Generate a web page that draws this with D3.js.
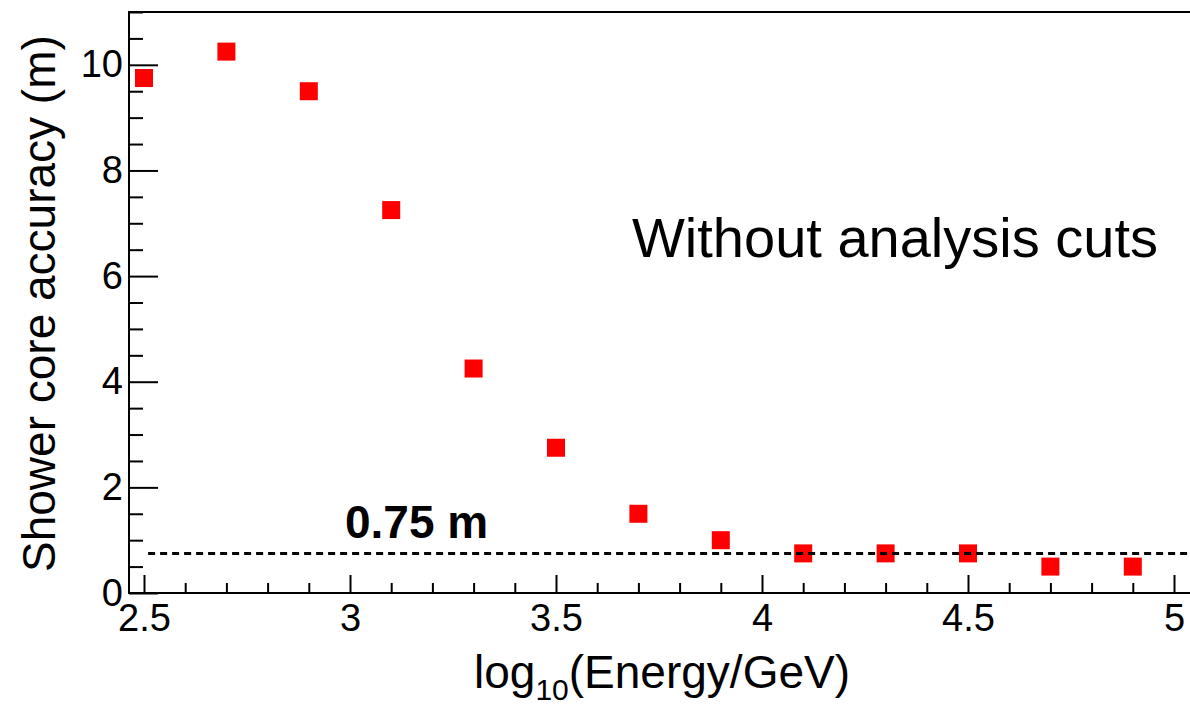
<!DOCTYPE html>
<html>
<head>
<meta charset="utf-8">
<script src="https://cdn.jsdelivr.net/npm/d3@7"></script>
<style>
  body { margin: 0; background: #fff; }
  svg { display: block; font-family: "Liberation Sans", Arial, Helvetica, sans-serif; }
</style>
</head>
<body>
<svg width="1190" height="707"></svg>
<script>
// Energy bins (log10 E/GeV) and core accuracy in metres
const energy = [2.5, 2.7, 2.9, 3.1, 3.3, 3.5, 3.7, 3.9, 4.1, 4.3, 4.5, 4.7, 4.9];
const accuracy = [9.75, 10.25, 9.5, 7.25, 4.25, 2.75, 1.5, 1.0, 0.75, 0.75, 0.75, 0.5, 0.5];

const xMajor = [2.5, 3, 3.5, 4, 4.5, 5];
const xTickLabels = ["2.5", "3", "3.5", "4", "4.5", "5"];
const yMajor = [0, 2, 4, 6, 8, 10];
const yTickLabels = ["0", "2", "4", "6", "8", "10"];

const refLevel = 0.75;
const refLabel = "0.75 m";

const svg = d3.select("svg");

// frame: left edge 129, bottom 593, top 12, right runs off the page
const frame = { left: 129, top: 12, right: 1200, bottom: 593 };

const x = d3.scaleLinear().domain([2.5, 5]).range([144, 1174]);
const y = d3.scaleLinear().domain([0, 11]).range([frame.bottom, frame.top]);

// minor ticks
const xMinor = d3.range(25, 51).map(d => d / 10).filter(d => !xMajor.includes(d));
const yMinor = d3.range(0, 23).map(d => d / 2).filter(d => !yMajor.includes(d));

// markers first, so the dashed line sits on top
svg.append("g")
  .selectAll("rect")
  .data(energy)
  .enter()
  .append("rect")
  .attr("x", d => x(d) - 9)
  .attr("y", (d, i) => y(accuracy[i]) - 9)
  .attr("width", 18)
  .attr("height", 18)
  .style("fill", "#ff0000");

svg.append("line")
  .attr("x1", x(2.51))
  .attr("x2", frame.right)
  .attr("y1", y(refLevel))
  .attr("y2", y(refLevel))
  .style("stroke", "#000")
  .style("stroke-width", 3)
  .style("stroke-dasharray", "7,5");

svg.append("text")
  .attr("x", 345)
  .attr("y", 538)
  .style("font-size", "46px")
  .style("font-weight", "bold")
  .text(refLabel);

// frame outline
svg.append("rect")
  .attr("x", frame.left)
  .attr("y", frame.top)
  .attr("width", frame.right - frame.left)
  .attr("height", frame.bottom - frame.top)
  .style("fill", "none")
  .style("stroke", "#000")
  .style("stroke-width", 2);

// x axis (major and minor in separate groups, otherwise the second call replaces the first)
svg.append("g")
  .attr("transform", `translate(0,${frame.bottom})`)
  .call(d3.axisBottom(x).tickValues(xMajor).tickSize(-18).tickPadding(11)
    .tickFormat((d, i) => xTickLabels[i]));
svg.append("g")
  .attr("transform", `translate(0,${frame.bottom})`)
  .call(d3.axisBottom(x).tickValues(xMinor).tickSize(-10).tickFormat(""));

// y axis
svg.append("g")
  .attr("transform", `translate(${frame.left},0)`)
  .call(d3.axisLeft(y).tickValues(yMajor).tickSize(-29).tickPadding(6)
    .tickFormat((d, i) => yTickLabels[i]));
svg.append("g")
  .attr("transform", `translate(${frame.left},0)`)
  .call(d3.axisLeft(y).tickValues(yMinor).tickSize(-14).tickFormat(""));

svg.selectAll(".domain").remove();
svg.selectAll(".tick line").style("stroke", "#000").style("stroke-width", 2);
svg.selectAll(".tick text")
  .style("font-size", "38px")
  .style("font-family", "'Liberation Sans', Arial, Helvetica, sans-serif")
  .style("fill", "#000");

// annotation
svg.append("text")
  .attr("x", 632)
  .attr("y", 257)
  .style("font-size", "56px")
  .text("Without analysis cuts");

// axis titles
const xTitle = svg.append("text")
  .attr("x", 850)
  .attr("y", 688)
  .attr("text-anchor", "end")
  .style("font-size", "46px");
xTitle.append("tspan").text("log");
xTitle.append("tspan").attr("dy", 12).style("font-size", "30px").text("10");
xTitle.append("tspan").attr("dy", -12).text("(Energy/GeV)");

svg.append("text")
  .attr("transform", "translate(55,572) rotate(-90)")
  .style("font-size", "46px")
  .text("Shower core accuracy (m)");
</script>
</body>
</html>
